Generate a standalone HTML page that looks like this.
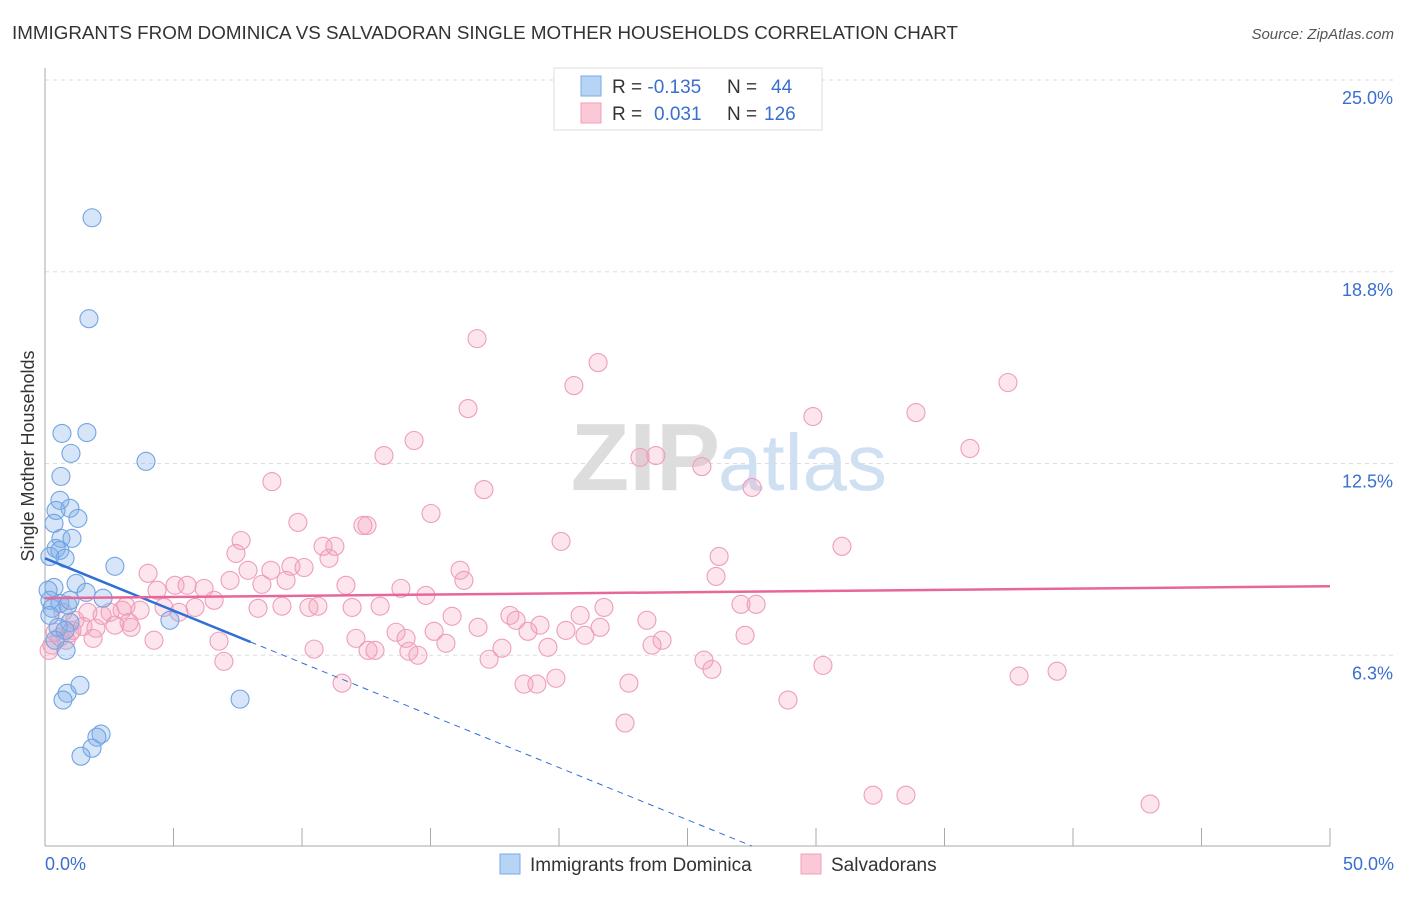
<!DOCTYPE html>
<html><head><meta charset="utf-8"><style>
body{margin:0;background:#fff;font-family:"Liberation Sans",sans-serif;}
svg text{font-family:"Liberation Sans",sans-serif;}
</style></head><body>
<svg id="c" width="1406" height="892" xmlns="http://www.w3.org/2000/svg">
<text x="12" y="39" font-size="18" fill="#333" textLength="946" lengthAdjust="spacingAndGlyphs">IMMIGRANTS FROM DOMINICA VS SALVADORAN SINGLE MOTHER HOUSEHOLDS CORRELATION CHART</text>
<text x="1394" y="39" font-size="15" fill="#555" text-anchor="end" font-style="italic">Source: ZipAtlas.com</text>
<text x="720" y="490" font-size="96" fill="#ddd" text-anchor="end" font-weight="bold" font-family="Liberation Serif">ZIP</text>
<text x="718" y="490" font-size="80" fill="#cfe0f3">atlas</text>
<g id="grid"></g><g id="axes"></g><g id="pts"></g><g id="lines"></g>
<text transform="translate(34,456) rotate(-90)" font-size="18" fill="#333" text-anchor="middle">Single Mother Households</text>
<g>
<rect x="554" y="68" width="268" height="62" fill="#fff" stroke="#ddd"/>
<rect x="581" y="76" width="20" height="20" fill="#b8d4f5" stroke="#7aaae6"/>
<rect x="581" y="103" width="20" height="20" fill="#fbc8d8" stroke="#f0a0b8"/>
<text x="612" y="93" font-size="19" fill="#333">R = <tspan fill="#3a6fcf">-0.135</tspan>  <tspan x="727">N = </tspan><tspan fill="#3a6fcf" x="771">44</tspan></text>
<text x="612" y="120" font-size="19" fill="#333">R = <tspan fill="#3a6fcf" x="654">0.031</tspan><tspan x="727">N = </tspan><tspan fill="#3a6fcf" x="764">126</tspan></text>
</g>
<g>
<rect x="500" y="854" width="20" height="20" fill="#b8d4f5" stroke="#7aaae6"/>
<text x="530" y="871" font-size="19" fill="#333">Immigrants from Dominica</text>
<rect x="801" y="854" width="20" height="20" fill="#fbc8d8" stroke="#f0a0b8"/>
<text x="831" y="871" font-size="19" fill="#333">Salvadorans</text>
</g>
</svg>
<script>
const xTicks=[0,5,10,15,20,25,30,35,40,45,50];
const yTicks=[6.25,12.5,18.75,25];
const yTickLabels=["6.3%","12.5%","18.8%","25.0%"];
const xEndLabels=["0.0%","50.0%"];
const blueX=[1.83,1.71,0.66,1.63,1.01,3.93,0.62,0.58,0.97,0.43,0.35,1.28,0.62,1.05,0.43,0.58,0.78,0.19,2.72,0.35,1.21,0.19,0.27,0.58,1.60,2.26,0.89,0.97,0.51,0.78,4.86,0.82,0.86,0.70,1.36,7.59,2.18,2.02,1.83,1.40,0.19,0.39,0.12,0.97];
const blueY=[20.51,17.22,13.48,13.51,12.83,12.57,12.08,11.30,11.04,10.97,10.55,10.71,10.06,10.06,9.73,9.67,9.41,9.47,9.15,8.46,8.59,8.04,7.78,7.94,8.30,8.11,7.88,7.32,7.16,7.06,7.39,6.41,5.01,4.79,5.27,4.82,3.68,3.58,3.22,2.96,7.55,6.74,8.37,8.04];
const pinkX=[16.81,21.52,20.58,37.47,16.46,29.88,33.89,14.36,13.19,23.15,23.77,35.99,25.56,8.83,27.51,17.08,15.02,9.84,12.37,12.53,7.63,20.08,10.82,11.28,31.01,7.43,26.23,11.05,4.01,16.15,16.30,26.11,7.90,8.79,9.57,10.08,5.06,5.53,4.36,6.19,7.20,8.44,9.38,11.71,13.85,14.82,6.58,5.84,4.63,5.21,3.00,3.15,2.53,8.29,9.22,10.27,10.62,11.95,13.04,15.84,18.09,18.33,20.82,21.75,27.08,27.67,23.42,2.22,1.67,3.27,2.72,3.35,1.98,1.48,0.97,0.58,0.39,0.27,0.16,0.82,1.87,4.24,6.77,12.10,13.66,15.14,16.85,18.79,19.26,20.27,21.01,21.60,24.01,23.62,27.24,14.05,12.57,10.47,12.84,14.16,14.51,15.60,17.78,19.57,6.96,17.28,25.64,25.95,30.27,37.90,39.38,11.56,18.64,19.14,19.88,22.72,28.91,22.57,32.22,33.50,43.00,0.70,1.17,1.05,3.70];
const pinkY=[16.57,15.79,15.04,15.14,14.29,14.03,14.16,13.25,12.76,12.70,12.76,12.99,12.40,11.91,11.72,11.65,10.87,10.58,10.48,10.48,9.99,9.96,9.80,9.80,9.80,9.57,9.47,9.41,8.92,9.02,8.69,8.82,9.02,9.02,9.15,9.11,8.53,8.53,8.37,8.43,8.69,8.56,8.69,8.53,8.43,8.20,8.04,7.81,7.81,7.65,7.72,7.85,7.65,7.78,7.85,7.81,7.85,7.81,7.85,7.52,7.55,7.39,7.55,7.81,7.91,7.91,7.39,7.55,7.65,7.32,7.23,7.16,7.13,7.19,6.97,6.84,7.00,6.58,6.41,6.74,6.80,6.74,6.71,6.80,7.00,7.03,7.16,7.03,7.23,7.06,6.90,7.16,6.74,6.58,6.90,6.80,6.41,6.45,6.41,6.38,6.25,6.64,6.48,6.51,6.05,6.12,6.09,5.79,5.92,5.57,5.73,5.34,5.31,5.31,5.50,5.34,4.79,4.04,1.69,1.69,1.40,7.65,7.39,7.06,7.72];
const blueTrend=[9.41,-0.341];
const pinkTrend=[8.11,0.0078];
const X0=45,X1=1330,Y0=847,Y25=80;
const sx=v=>X0+v*(X1-X0)/50;
const sy=v=>Y0-v*(Y0-Y25)/25;
const NS="http://www.w3.org/2000/svg";
function mk(p,t,a){const e=document.createElementNS(NS,t);for(const k in a)e.setAttribute(k,a[k]);p.appendChild(e);return e;}
const grid=document.getElementById('grid'),axes=document.getElementById('axes'),pts=document.getElementById('pts'),lines=document.getElementById('lines');
yTicks.forEach((t,i)=>{
 const l=mk(grid,'line',{x1:X0,x2:1394,y1:sy(t),y2:sy(t),stroke:'#ddd','stroke-dasharray':'4,4'});
 
 
 const tx=mk(grid,'text',{x:1393,y:sy(t)+24,'font-size':18,fill:'#3a6fcf','text-anchor':'end'});
 tx.textContent=yTickLabels[i];
 
 
});
const ya=mk(axes,'line',{x1:X0,x2:X0,y1:68,y2:846,stroke:'#aaa'});


const xa=mk(axes,'line',{x1:X0,x2:X1,y1:846,y2:846,stroke:'#aaa'});


xTicks.forEach(t=>{
 const l=mk(axes,'line',{x1:sx(t),x2:sx(t),y1:828,y2:846,stroke:'#aaa'});
 
 
});
[[0,'start',45],[50,'end',1394]].forEach((d,i)=>{
 const tx=mk(axes,'text',{x:d[2],y:870,'font-size':18,fill:'#3a6fcf','text-anchor':d[1]});
 tx.textContent=xEndLabels[i];
 
 
});
pinkX.forEach((x,i)=>{
 const c=mk(pts,'circle',{cx:sx(x),cy:sy(pinkY[i]),r:9,fill:'rgba(243,160,188,0.28)',stroke:'#ef9dba','stroke-width':1.1});
 
 
});
blueX.forEach((x,i)=>{
 const c=mk(pts,'circle',{cx:sx(x),cy:sy(blueY[i]),r:9,fill:'rgba(130,175,235,0.33)',stroke:'#72a4e2','stroke-width':1.1});
 
 
});
const bt=x=>blueTrend[0]+blueTrend[1]*x;
const b1=mk(lines,'line',{x1:sx(0),y1:sy(bt(0)),x2:sx(8),y2:sy(bt(8)),stroke:'#2f6fd6','stroke-width':2.5});


const xe=27.5;
const b2=mk(lines,'line',{x1:sx(8),y1:sy(bt(8)),x2:sx(xe),y2:sy(bt(xe)),stroke:'#2f6fd6','stroke-width':1,'stroke-dasharray':'6,5'});


const pt=x=>pinkTrend[0]+pinkTrend[1]*x;
const p1=mk(lines,'line',{x1:sx(0),y1:sy(pt(0)),x2:sx(50),y2:sy(pt(50)),stroke:'#e8679a','stroke-width':2.5});


</script>
</body></html>
